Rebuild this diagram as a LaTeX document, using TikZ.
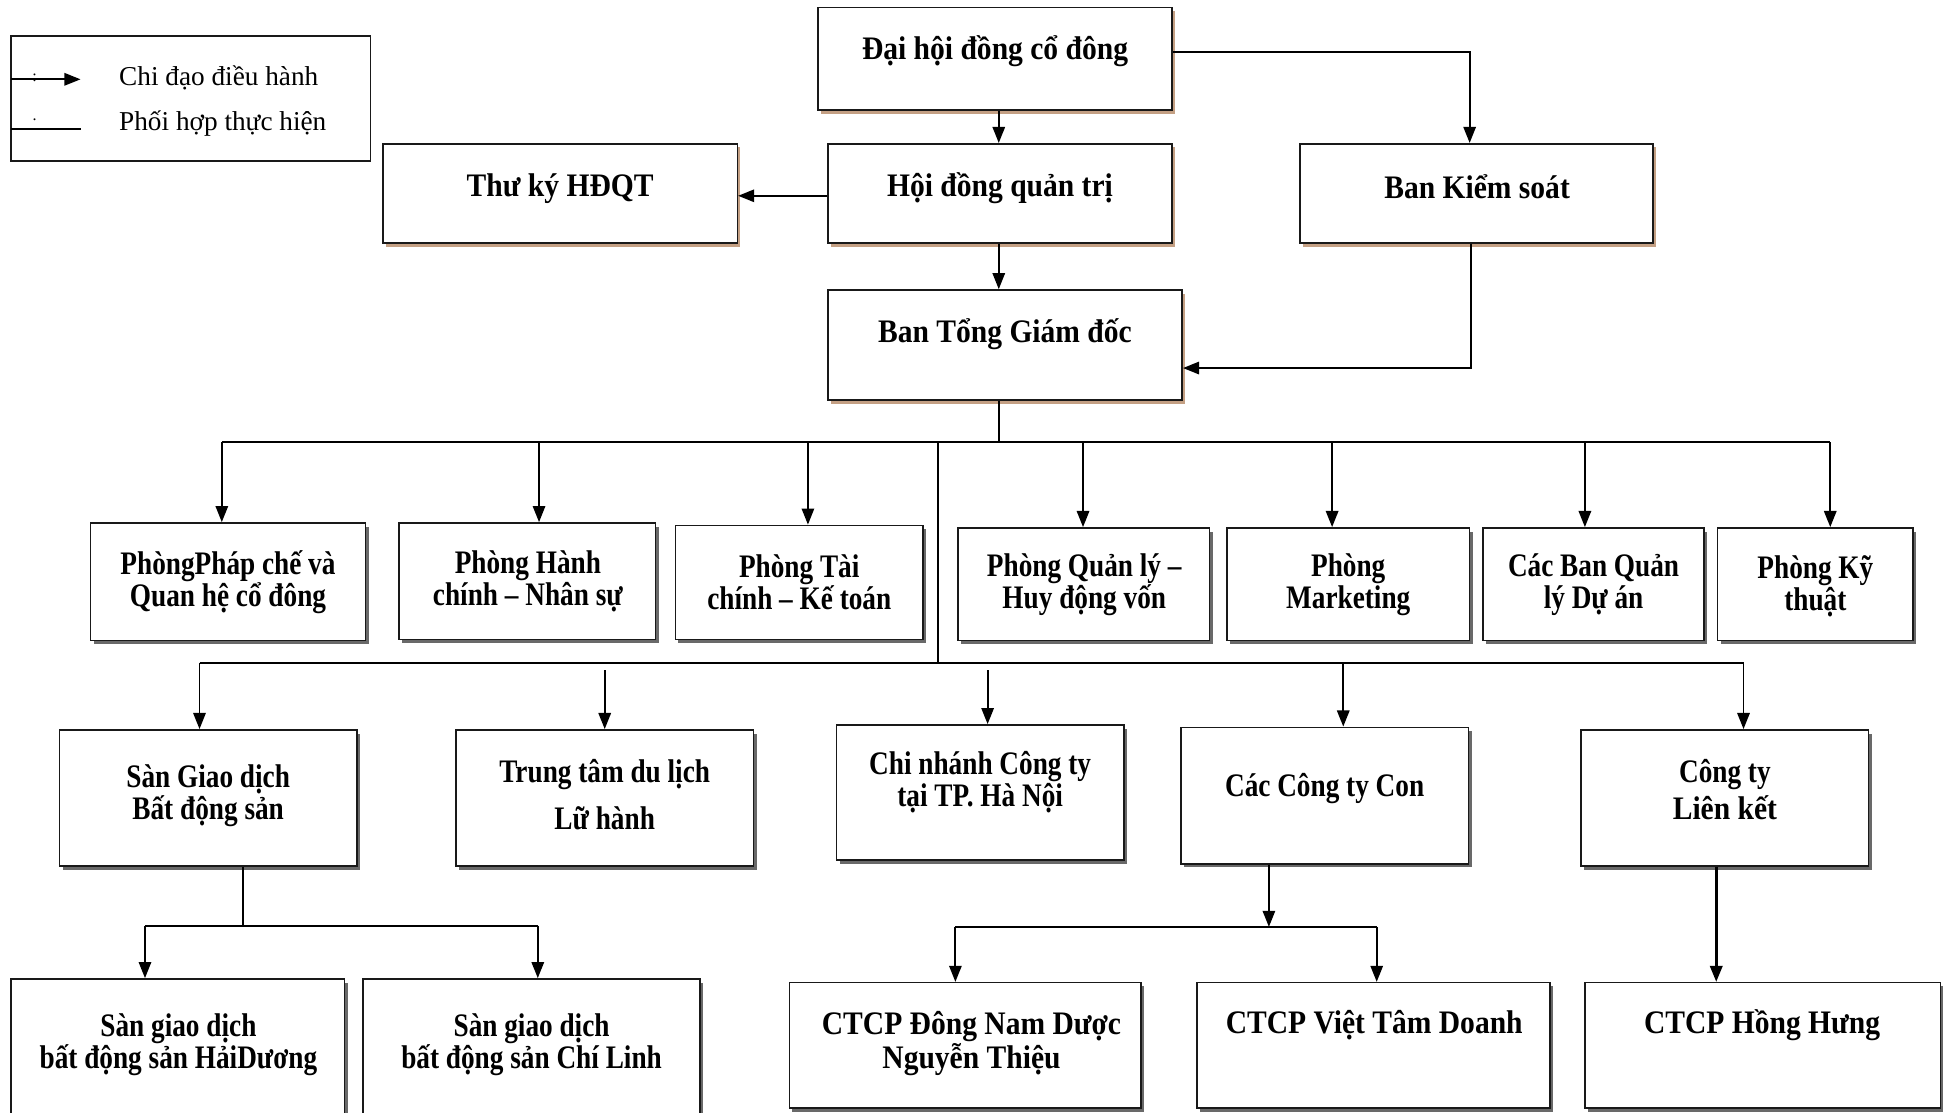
\documentclass[tikz,border=0pt]{standalone}
\usepackage{fontspec}
\setmainfont{Liberation Serif}
\newfontfamily\bxfont[FakeStretch=0.9]{Liberation Serif}
\newfontfamily\bxnfont[FakeStretch=0.83]{Liberation Serif}
\usetikzlibrary{arrows.meta,shadows,calc}
\definecolor{shtan}{RGB}{196,160,132}
\definecolor{shgray}{RGB}{105,105,105}
\tikzset{
 boxbase/.style={draw=black!90, line width=1.3pt, fill=white, inner sep=0pt},
 tanbox/.style={boxbase, general shadow={fill=shtan, shadow xshift=2.5pt, shadow yshift=-3pt}},
 graybox/.style={boxbase, general shadow={fill=shgray, shadow xshift=2.5pt, shadow yshift=-3pt}},
 plainbox/.style={boxbase},
 txt/.style={font=\bxfont\bfseries\fontsize{26.5}{27}\selectfont, align=center, inner sep=0pt},
 txtn/.style={font=\bxnfont\bfseries\fontsize{26.5}{26}\selectfont, align=center, inner sep=0pt},
 legtxt/.style={font=\fontsize{22}{24}\selectfont, anchor=west, inner sep=0pt},
 dotmark/.style={font=\fontsize{13}{13}\selectfont, inner sep=0pt},
 conn/.style={line width=1.5pt, draw=black},
 arr/.style={conn, -{Triangle[length=13pt,width=10pt]}},
}
\newcommand\orgbox[6]{\node[#6, minimum width={(#4)-(#2)}, minimum height={(#5)-(#3)}] (#1) at ({((#2)+(#4))/2},{((#3)+(#5))/2}) {};}
\begin{document}
\begin{tikzpicture}[x=1pt,y=-1pt]
\useasboundingbox (0,0) rectangle (1568,898);
\fill[white] (0,0) rectangle (1568,898);
\clip (0,0) rectangle (1568,898);

% legend
\orgbox{leg}{9}{29}{299}{130}{plainbox}
\coordinate (l1a) at (9,64);
\coordinate (l1b) at (65,64);
\coordinate (l2a) at (9,104);
\coordinate (l2b) at (65,104);
\draw[arr] (l1a) -- (l1b);
\draw[conn] (l2a) -- (l2b);
\node[dotmark] (legd1) at (28,63) {:};
\node[dotmark] (legd2) at (28,97) {.};
\node[legtxt] (leg1) at (96,63) {Chi đạo điều hành};
\node[legtxt] (leg2) at (96,100) {Phối hợp thực hiện};

% top level
\orgbox{dh}{660}{6}{946}{89}{tanbox}
\node[txt] (dh-t) at (803,41) {Đại hội đồng cổ đông};
\orgbox{tk}{309}{116}{595}{196}{tanbox}
\node[txt] (tk-t) at (452,152) {Thư ký HĐQT};
\orgbox{hd}{668}{116}{946}{196}{tanbox}
\node[txt] (hd-t) at (807,152) {Hội đồng quản trị};
\orgbox{bk}{1049}{116}{1334}{196}{tanbox}
\node[txt] (bk-t) at (1192,151) {Ban Kiểm soát};
\orgbox{tg}{668}{234}{954}{323}{tanbox}
\node[txt] (tg-t) at (811,270) {Ban Tổng Giám đốc};

\coordinate (c1) at (806,0);
\draw[arr] (c1 |- dh.south) -- (c1 |- hd.north);
\coordinate (c2) at (1186,42);
\draw[arr] (dh.east |- c2) -- (c2) -- (c2 |- bk.north);
\coordinate (c3) at (0,158);
\draw[arr] (hd.west |- c3) -- (tk.east |- c3);
\draw[arr] (c1 |- hd.south) -- (c1 |- tg.north);
\coordinate (c4) at (1187,297);
\draw[arr] (c4 |- bk.south) -- (c4) -- (tg.east |- c4);

% level 2 boxes
\orgbox{p1}{73}{422}{295}{517}{graybox}
\node[txtn] (p1-t) at (184,470) {PhòngPháp chế và\\Quan hệ cổ đông};
\orgbox{p2}{322}{422}{529}{516}{graybox}
\node[txtn] (p2-t) at (426,469) {Phòng Hành\\chính – Nhân sự};
\orgbox{p3}{545}{424}{745}{516}{graybox}
\node[txtn] (p3-t) at (645,470) {Phòng Tài\\chính – Kế toán};
\orgbox{p4}{773}{426}{976}{517}{graybox}
\node[txtn] (p4-t) at (875,472) {Phòng Quản lý –\\Huy động vốn};
\orgbox{p5}{990}{426}{1186}{517}{graybox}
\node[txtn] (p5-t) at (1088,472) {Phòng\\Marketing};
\orgbox{p6}{1197}{426}{1375}{517}{graybox}
\node[txtn] (p6-t) at (1286,472) {Các Ban Quản\\lý Dự án};
\orgbox{p7}{1386}{426}{1544}{517}{graybox}
\node[txtn] (p7-t) at (1465,473) {Phòng Kỹ\\thuật};

% bus 1
\coordinate (j1) at (806,357);
\draw[conn] (j1 |- tg.south) -- (j1);
\coordinate (a1) at (179,357);
\coordinate (b1) at (435,357);
\coordinate (cc1) at (652,357);
\coordinate (d1) at (874,357);
\coordinate (e1) at (1075,357);
\coordinate (f1) at (1279,357);
\coordinate (g1) at (1477,357);
\draw[conn] (a1) -- (g1);
\draw[arr] (a1) -- (a1 |- p1.north);
\draw[arr] (b1) -- (b1 |- p2.north);
\draw[arr] (cc1) -- (cc1 |- p3.north);
\draw[arr] (d1) -- (d1 |- p4.north);
\draw[arr] (e1) -- (e1 |- p5.north);
\draw[arr] (f1) -- (f1 |- p6.north);
\draw[arr] (g1) -- (g1 |- p7.north);

% link to bus 2
\coordinate (j2) at (757,357);
\coordinate (j3) at (757,535);
\draw[conn] (j2) -- (j3);

% level 3 boxes
\orgbox{q1}{48}{589}{288}{699}{graybox}
\node[txtn] (q1-t) at (168,642) {Sàn Giao dịch\\Bất động sản};
\orgbox{q2}{368}{589}{608}{699}{graybox}
\node[txtn] (q2-t) at (488,641) {Trung tâm du lịch\\[12pt]Lữ hành};
\orgbox{q3}{675}{585}{907}{694}{graybox}
\node[txtn] (q3-t) at (791,631) {Chi nhánh Công ty\\tại TP. Hà Nội};
\orgbox{q4}{953}{587}{1185}{697}{graybox}
\node[txtn] (q4-t) at (1069,636) {Các Công ty Con};
\orgbox{q5}{1276}{589}{1508}{699}{graybox}
\node[txtn] (q5-t) at (1392,637) {Công ty\\[4pt]{\bxfont Liên kết}};

% bus 2
\coordinate (s1) at (161,535);
\coordinate (s2) at (488,541);
\coordinate (s3) at (797,541);
\coordinate (s4) at (1084,535);
\coordinate (s5) at (1407,535);
\draw[conn] (s1) -- (s5);
\draw[arr] (s1) -- (s1 |- q1.north);
\draw[arr] (s2) -- (s2 |- q2.north);
\draw[arr] (s3) -- (s3 |- q3.north);
\draw[arr] (s4) -- (s4 |- q4.north);
\draw[arr] (s5) -- (s5 |- q5.north);

% level 4 boxes
\orgbox{r1}{9}{790}{278}{910}{graybox}
\node[txtn] (r1-t) at (144,843) {Sàn giao dịch\\bất động sản HảiDương};
\orgbox{r2}{293}{790}{565}{910}{graybox}
\node[txtn] (r2-t) at (429,843) {Sàn giao dịch\\bất động sản Chí Linh};
\orgbox{r3}{637}{793}{921}{894}{graybox}
\node[txt] (r3-t) at (784,842) {CTCP Đông Nam Dược\\Nguyễn Thiệu};
\orgbox{r4}{966}{793}{1251}{894}{graybox}
\node[txt] (r4-t) at (1109,827) {CTCP Việt Tâm Doanh};
\orgbox{r5}{1279}{793}{1566}{894}{graybox}
\node[txt] (r5-t) at (1422,827) {CTCP Hồng Hưng};

% level 4 connectors
\coordinate (k1) at (196,747);
\coordinate (k1a) at (117,747);
\coordinate (k1b) at (434,747);
\draw[conn] (k1 |- q1.south) -- (k1);
\draw[conn] (k1a) -- (k1b);
\draw[arr] (k1a) -- (k1a |- r1.north);
\draw[arr] (k1b) -- (k1b |- r2.north);
\coordinate (k2) at (1024,748);
\coordinate (k2a) at (771,748);
\coordinate (k2b) at (1111,748);
\draw[arr] (k2 |- q4.south) -- (k2);
\draw[conn] (k2a) -- (k2b);
\draw[arr] (k2a) -- (k2a |- r3.north);
\draw[arr] (k2b) -- (k2b |- r4.north);
\coordinate (k3) at (1385,0);
\draw[arr, line width=2.2pt] (k3 |- q5.south) -- (k3 |- r5.north);
\end{tikzpicture}
\end{document}
